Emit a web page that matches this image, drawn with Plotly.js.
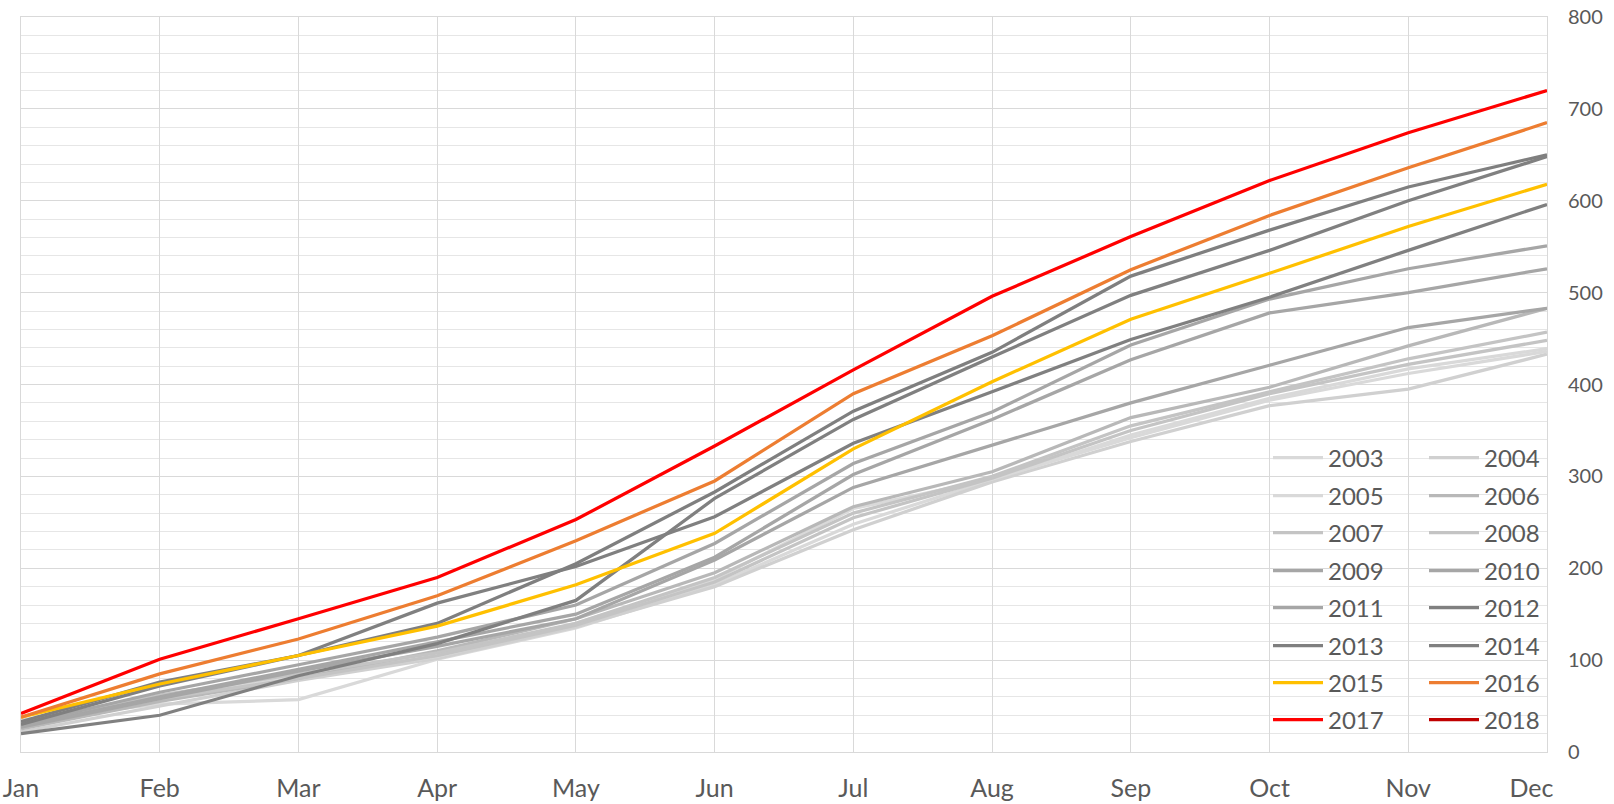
<!DOCTYPE html>
<html>
<head>
<meta charset="utf-8">
<script src="https://cdn.plot.ly/plotly-3.0.1.min.js"></script>
<style>html,body{margin:0;padding:0;background:#fff;}#chart{width:1614px;height:804px;}</style>
</head>
<body>
<div id="chart"></div>
<script>
const months = ['Jan','Feb','Mar','Apr','May','Jun','Jul','Aug','Sep','Oct','Nov','Dec'];
const monthLabels = ['Jan','Feb','Mar','Apr','May','Jun','Jul','Aug','Sep','Oct','Nov','Dec\u2003\u2002'];
const years = ['2003','2004','2005','2006','2007','2008','2009','2010','2011','2012','2013','2014','2015','2016','2017','2018'];

const v2003 = [35, 52, 57, 101, 135, 182, 248, 296, 345, 385, 417, 439];
const v2004 = [22, 50, 78, 102, 136, 180, 242, 294, 338, 377, 395, 433];
const v2005 = [32, 60, 82, 104, 140, 188, 265, 297, 342, 383, 412, 436];
const v2006 = [25, 55, 80, 110, 145, 195, 267, 305, 364, 397, 442, 483];
const v2007 = [30, 62, 85, 108, 140, 190, 260, 300, 355, 392, 428, 457];
const v2008 = [28, 58, 80, 105, 138, 185, 255, 298, 350, 390, 422, 448];
const v2009 = [30, 65, 95, 125, 160, 227, 314, 370, 443, 493, 526, 551];
const v2010 = [28, 60, 90, 120, 150, 212, 302, 362, 427, 478, 500, 526];
const v2011 = [27, 58, 88, 115, 145, 209, 288, 334, 380, 421, 462, 483];
const v2012 = [30, 72, 105, 162, 202, 256, 336, 392, 449, 495, 546, 596];
const v2013 = [33, 76, 105, 140, 205, 283, 371, 435, 518, 568, 615, 650];
const v2014 = [20, 40, 83, 118, 165, 276, 362, 430, 497, 546, 600, 648];
const v2015 = [38, 74, 105, 137, 182, 238, 330, 403, 471, 521, 572, 618];
const v2016 = [38, 85, 123, 170, 230, 295, 390, 453, 525, 584, 636, 685];
const v2017 = [42, 101, 145, 190, 253, 333, 416, 496, 561, 622, 674, 720];
const v2018 = [40, null, null, null, null, null, null, null, null, null, null, null];

const series = [v2003, v2004, v2005, v2006, v2007, v2008, v2009, v2010, v2011, v2012, v2013, v2014, v2015, v2016, v2017, v2018];
const colors = ['#d9d9d9','#d0d0d0','#d9d9d9','#b8b8b8','#c4c4c4','#c4c4c4','#a6a6a6','#a6a6a6','#a6a6a6','#808080','#7f7f7f','#808080','#ffc000','#ed7d31','#ff0000','#c00000'];

const FONT = 'Lato, "Open Sans", sans-serif';
const TXT = '#595959';

const plotL = 21, plotR = 1547, plotT = 17, plotB = 752;
const rowY = [458, 496, 533, 571, 608, 646, 683, 720];
const legendLeftPx = 1268;
const symbolW = 50;
const columnStep = 142;

const traces = series.map((vals, i) => {
  const row = Math.floor(i / 2);
  return {
    type: 'scatter',
    mode: 'lines',
    name: years[i],
    x: months,
    y: vals,
    line: {color: colors[i], width: 3.25},
    legend: row === 0 ? 'legend' : 'legend' + (row + 1),
    hoverinfo: 'x+y+name'
  };
});

const layout = {
  width: 1614,
  height: 804,
  paper_bgcolor: '#ffffff',
  plot_bgcolor: '#ffffff',
  margin: {l: plotL, r: 1614 - plotR, t: plotT, b: 804 - plotB, pad: 0, autoexpand: false},
  font: {family: FONT, color: TXT},
  showlegend: true,
  xaxis: {
    type: 'category',
    categoryorder: 'array',
    categoryarray: months,
    tickmode: 'array',
    tickvals: months,
    ticktext: monthLabels,
    range: [0, 11],
    showgrid: true,
    gridcolor: '#d9d9d9',
    gridwidth: 1,
    zeroline: false,
    showline: true,
    linecolor: '#d9d9d9',
    linewidth: 1,
    mirror: true,
    ticks: '',
    ticklabelstandoff: 14,
    tickfont: {family: FONT, size: 25, color: TXT},
    fixedrange: true
  },
  yaxis: {
    side: 'right',
    range: [0, 800],
    dtick: 100,
    tick0: 0,
    showgrid: true,
    gridcolor: '#d9d9d9',
    gridwidth: 1,
    zeroline: false,
    showline: true,
    linecolor: '#d9d9d9',
    linewidth: 1,
    mirror: true,
    ticks: '',
    ticklabelstandoff: 16,
    tickfont: {family: FONT, size: 20, color: TXT},
    minor: {dtick: 20, showgrid: true, gridcolor: '#e6e6e6', gridwidth: 1},
    fixedrange: true
  }
};

rowY.forEach((py, r) => {
  const key = r === 0 ? 'legend' : 'legend' + (r + 1);
  layout[key] = {
    orientation: 'h',
    x: (legendLeftPx - plotL) / (plotR - plotL),
    xanchor: 'left',
    y: (plotB - py) / (plotB - plotT),
    yanchor: 'middle',
    bgcolor: 'rgba(0,0,0,0)',
    borderwidth: 0,
    entrywidth: columnStep - symbolW - 1,
    entrywidthmode: 'pixels',
    itemwidth: symbolW,
    font: {family: FONT, size: 24, color: TXT},
    itemclick: false,
    itemdoubleclick: false
  };
});

Plotly.newPlot('chart', traces, layout, {displayModeBar: false, staticPlot: true});
</script>
</body>
</html>
